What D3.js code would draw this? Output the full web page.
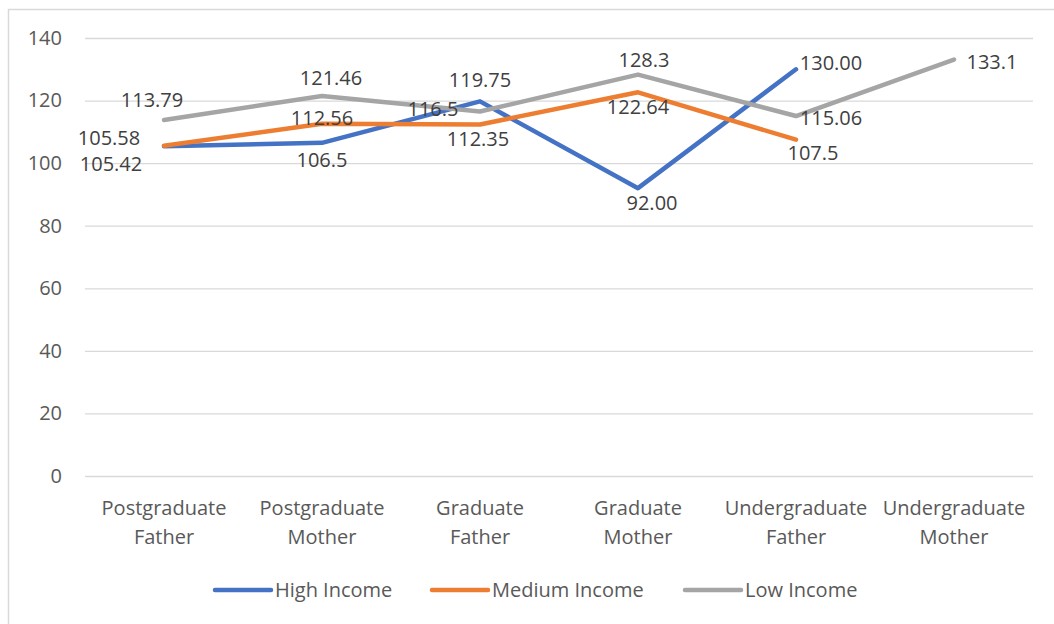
<!DOCTYPE html>
<html>
<head>
<meta charset="utf-8">
<script src="https://cdn.jsdelivr.net/npm/d3@7"></script>
<style>
  body { margin: 0; background: #fff; }
  svg { display: block; font-family: "Open Sans", sans-serif; }
</style>
</head>
<body>
<svg id="chart" width="1054" height="624"></svg>
<script>
// categories and series
const categories = [
  ['Postgraduate', 'Father'], ['Postgraduate', 'Mother'],
  ['Graduate', 'Father'], ['Graduate', 'Mother'],
  ['Undergraduate', 'Father'], ['Undergraduate', 'Mother']
];
const highIncome = [105.42, 106.5, 119.75, 92.00, 130.00, null];
const mediumIncome = [105.58, 112.56, 112.35, 122.64, 107.5, null];
const lowIncome = [113.79, 121.46, 116.5, 128.3, 115.06, 133.1];

// data label text as shown (Excel mixed the decimals)
const highLabels = ['105.42', '106.5', '119.75', '92.00', '130.00', null];
const mediumLabels = ['105.58', '112.56', '112.35', '122.64', '107.5', null];
const lowLabels = ['113.79', '121.46', '116.5', '128.3', '115.06', '133.1'];

const yTicks = [0, 20, 40, 60, 80, 100, 120, 140];

// label nudges (px) so the labels sit where Excel put them
const highOffsets = [[-53, 18], [0, 17], [0, -21], [14, 15], [35, -6]];
const mediumOffsets = [[-55, -8], [0, -6], [-2, 14], [0, 15], [17, 13]];
const lowOffsets = [[-12, -20], [9, -18], [-47, -3], [6, -15], [35, 2], [38, 2]];

const series = [
  { name: 'High Income', values: highIncome, labels: highLabels, offsets: highOffsets, color: '#4472C4' },
  { name: 'Medium Income', values: mediumIncome, labels: mediumLabels, offsets: mediumOffsets, color: '#ED7D31' },
  { name: 'Low Income', values: lowIncome, labels: lowLabels, offsets: lowOffsets, color: '#A5A5A5' }
];

const svg = d3.select('#chart');
const plot = { left: 85, right: 1033, top: 38, bottom: 476 };
const fontSize = 20;

// chart area border (runs off the right/bottom of the picture)
svg.append('rect')
  .attr('x', 8.5).attr('y', 9.5)
  .attr('width', 1060).attr('height', 640)
  .attr('fill', 'none')
  .attr('stroke', '#D9D9D9')
  .attr('stroke-width', 1.5);

const x = d3.scaleBand()
  .domain(d3.range(categories.length))
  .range([plot.left, plot.right])
  .padding(0);

const y = d3.scaleLinear()
  .domain([0, 140])
  .range([plot.bottom, plot.top]);

const cx = i => x(i) + x.bandwidth() / 2;

// gridlines + y labels
const yAxis = svg.append('g')
  .attr('transform', `translate(${plot.left},0)`)
  .call(d3.axisLeft(y).tickValues(yTicks).tickSize(-(plot.right - plot.left)).tickPadding(23));
yAxis.select('.domain').remove();
yAxis.selectAll('.tick line')
  .attr('stroke', '#D9D9D9')
  .attr('stroke-width', 1.3);
yAxis.selectAll('.tick text')
  .attr('fill', '#595959')
  .style('font-size', fontSize + 'px')
  .style('font-family', '"Open Sans", sans-serif');

// category labels, two lines each
const xLabels = svg.append('g');
categories.forEach((lines, i) => {
  const t = xLabels.append('text')
    .attr('x', cx(i))
    .attr('y', 508)
    .attr('text-anchor', 'middle')
    .attr('fill', '#595959')
    .style('font-size', fontSize + 'px');
  lines.forEach((ln, j) => {
    t.append('tspan')
      .attr('x', cx(i))
      .attr('dy', j === 0 ? '0.35em' : 29)
      .text(ln);
  });
});

const line = d3.line()
  .defined(d => d != null)
  .x((d, i) => cx(i))
  .y(d => y(d));

series.forEach(s => {
  svg.append('path')
    .datum(s.values)
    .attr('fill', 'none')
    .attr('stroke', s.color)
    .attr('stroke-width', 4.5)
    .attr('stroke-linejoin', 'round')
    .attr('stroke-linecap', 'round')
    .attr('d', line);
});

// data labels
series.forEach(s => {
  svg.append('g')
    .selectAll('text')
    .data(s.values.map((v, i) => ({ v, i, label: s.labels[i], off: s.offsets[i] })).filter(d => d.v != null))
    .join('text')
    .attr('x', d => cx(d.i) + d.off[0])
    .attr('y', d => y(d.v) + d.off[1])
    .attr('dy', '0.35em')
    .attr('text-anchor', 'middle')
    .attr('fill', '#404040')
    .style('font-size', fontSize + 'px')
    .text(d => d.label);
});

// legend
const legendX = [215, 432, 685];
const legend = svg.append('g');
series.forEach((s, i) => {
  const lx = legendX[i];
  legend.append('line')
    .attr('x1', lx).attr('x2', lx + 56)
    .attr('y1', 590).attr('y2', 590)
    .attr('stroke', s.color)
    .attr('stroke-width', 4.5)
    .attr('stroke-linecap', 'round');
  legend.append('text')
    .attr('x', lx + 60)
    .attr('y', 590)
    .attr('dy', '0.35em')
    .attr('fill', '#595959')
    .style('font-size', fontSize + 'px')
    .text(s.name);
});
</script>
</body>
</html>
